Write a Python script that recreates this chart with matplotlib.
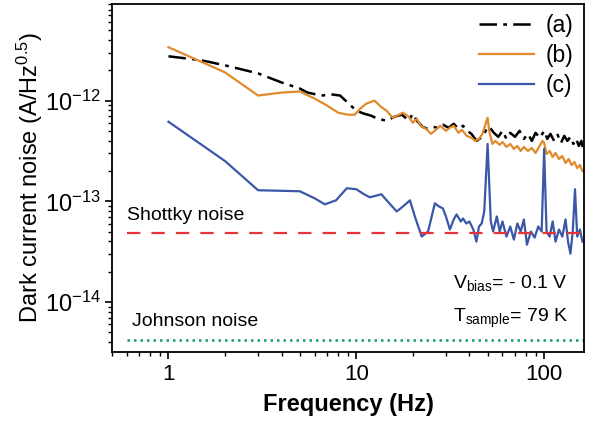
import matplotlib
matplotlib.use("Agg")
import matplotlib.pyplot as plt
import numpy as np
from matplotlib.ticker import LogLocator, FixedLocator, FixedFormatter, NullFormatter

plt.rcParams['font.family'] = ['Liberation Sans', 'DejaVu Sans']
plt.rcParams['mathtext.fontset'] = 'custom'
plt.rcParams['mathtext.rm'] = 'Liberation Sans'
plt.rcParams['mathtext.it'] = 'Liberation Sans:italic'
plt.rcParams['mathtext.bf'] = 'Liberation Sans:bold'

# ---- data (log10 of noise, A/Hz^0.5) ----
freq_a = [1, 1.5, 2, 3, 4, 5, 5.5, 6.5, 7.5, 8.2, 9, 10, 11, 12, 13, 14.5, 16, 17.5, 19, 20,
          21, 22.5, 24, 25.6, 27, 29, 31, 33, 35, 37, 39, 41, 43.7, 46, 48, 50, 52, 54, 57, 60,
          63, 66, 70, 74, 78, 82, 86, 90, 95, 100, 104, 108, 113, 118, 123, 128, 133, 138, 143,
          148, 153, 158, 162]
log_a = [-11.56, -11.60, -11.65, -11.73, -11.82, -11.88, -11.92, -11.95, -11.94, -11.95, -12.02,
         -12.10, -12.13, -12.15, -12.18, -12.20, -12.16, -12.14, -12.20, -12.13, -12.20, -12.26,
         -12.28, -12.26, -12.27, -12.24, -12.27, -12.23, -12.28, -12.25, -12.30, -12.33, -12.40,
         -12.37, -12.33, -12.26, -12.28, -12.32, -12.36, -12.30, -12.38, -12.32, -12.36, -12.30,
         -12.38, -12.33, -12.40, -12.32, -12.37, -12.30, -12.38, -12.33, -12.40, -12.34, -12.42,
         -12.35, -12.40, -12.36, -12.43, -12.38, -12.45, -12.40, -12.50]

freq_b = [1, 2, 3, 4, 5, 6, 7, 8, 9, 9.8, 10.5, 11.3, 12.5, 13.5, 14.5, 15.6, 16.5, 17.7, 19, 20,
          21, 22, 23.5, 25, 26.5, 28, 30, 31.5, 33, 35, 36.5, 38.7, 41, 43, 45, 47, 49, 50, 51, 53,
          55, 58, 60, 63, 66, 69, 72, 75, 78, 82, 86, 90, 94, 98, 100, 103, 107, 111, 115, 120,
          125, 130, 135, 140, 145, 150, 155, 160]
log_b = [-11.47, -11.72, -11.95, -11.92, -11.91, -11.98, -12.05, -12.12, -12.14, -12.14, -12.08,
         -12.03, -12.00, -12.06, -12.10, -12.17, -12.15, -12.12, -12.16, -12.22, -12.18, -12.25,
         -12.28, -12.33, -12.29, -12.25, -12.30, -12.27, -12.25, -12.32, -12.29, -12.35, -12.37,
         -12.40, -12.38, -12.33, -12.22, -12.17, -12.30, -12.43, -12.40, -12.44, -12.41, -12.46,
         -12.43, -12.48, -12.45, -12.50, -12.46, -12.50, -12.47, -12.52, -12.46, -12.40, -12.42,
         -12.53, -12.50, -12.56, -12.52, -12.58, -12.55, -12.62, -12.58, -12.64, -12.61, -12.67,
         -12.64, -12.70]

freq_c = [1, 2, 3, 5, 6, 6.8, 7.8, 8.9, 10, 11, 11.8, 13.6, 15, 16.4, 17.5, 19.3, 20.5, 22.3,
          24.1, 26.2, 27.5, 28.9, 30, 31.5, 33, 34.2, 36, 37, 38.5, 40, 42, 43.6, 45, 46.5, 48,
          50, 52, 53.5, 56, 58, 60, 63, 66, 69, 72, 75, 78, 81, 85, 89, 93, 97, 100, 103, 107,
          111, 115, 120, 125, 130, 134, 138, 142, 146, 150, 155, 160]
log_c = [-12.21, -12.60, -12.89, -12.90, -12.97, -13.03, -12.99, -12.87, -12.88, -12.93, -12.96,
         -12.93, -13.02, -13.10, -13.06, -12.99, -13.15, -13.35, -13.30, -13.02, -13.05, -13.07,
         -13.15, -13.28, -13.18, -13.13, -13.20, -13.17, -13.22, -13.20, -13.28, -13.40, -13.25,
         -13.22, -13.10, -12.43, -13.20, -13.30, -13.15, -13.30, -13.20, -13.35, -13.25, -13.38,
         -13.22, -13.30, -13.18, -13.43, -13.30, -13.36, -13.25, -13.30, -12.48, -13.30, -13.35,
         -13.20, -13.40, -13.28, -13.35, -13.18, -13.40, -13.52, -13.30, -12.88, -13.35, -13.28,
         -13.40]

shottky_level = 4.9e-14
johnson_level = 4.2e-15
ref_freq = [0.6, 165]

labels = ['(a)', '(b)', '(c)']

fig = plt.figure(figsize=(5.89, 4.25), dpi=100)
ax = fig.add_axes([0.190, 0.172, 0.8015, 0.8186])

ax.plot(freq_a, 10.0 ** np.array(log_a), color='black', lw=1.8, ls=(0, (7, 2.5, 1.5, 2.5)), label=labels[0])
ax.plot(freq_b, 10.0 ** np.array(log_b), color='#e08a2c', lw=1.6, label=labels[1])
ax.plot(freq_c, 10.0 ** np.array(log_c), color='#3a57a8', lw=1.6, label=labels[2])
ax.plot(ref_freq, [shottky_level] * 2, color='#e8333a', lw=1.6, ls=(0, (6, 5)))
ax.plot(ref_freq, [johnson_level] * 2, color='#1a9a6a', lw=1.8, ls=(0, (1, 1.6)))

ax.set_xscale('log')
ax.set_yscale('log')
ax.set_xlim(0.5, 163)
ax.set_ylim(3.2e-15, 9.1e-12)

ax.xaxis.set_major_locator(FixedLocator([1, 10, 100]))
ax.xaxis.set_major_formatter(FixedFormatter(['1', '10', '100']))
ax.xaxis.set_minor_locator(LogLocator(base=10, subs=np.arange(2, 10)))
ax.xaxis.set_minor_formatter(NullFormatter())
ax.yaxis.set_major_locator(FixedLocator([1e-14, 1e-13, 1e-12]))
ax.yaxis.set_major_formatter(FixedFormatter([r'10$^{\mathregular{-14}}$', r'10$^{\mathregular{-13}}$', r'10$^{\mathregular{-12}}$']))
ax.yaxis.set_minor_locator(LogLocator(base=10, subs=np.arange(2, 10)))
ax.yaxis.set_minor_formatter(NullFormatter())

ax.tick_params(which='major', direction='out', length=5, width=1.2, labelsize=16)
ax.tick_params(axis='y', which='major', labelsize=17, pad=3)
ax.tick_params(which='minor', direction='out', length=3, width=1.0)
for s in ax.spines.values():
    s.set_linewidth(1.3)

ax.set_xlabel('Frequency (Hz)', fontsize=17, fontweight='bold', labelpad=6)
ax.set_ylabel(r'Dark current noise (A/Hz$^{\mathregular{0.5}}$)', fontsize=17, labelpad=0)

ax.text(0.60, 6.6e-14, 'Shottky noise', fontsize=14, va='baseline', ha='left')
ax.text(0.643, 5.75e-15, 'Johnson noise', fontsize=14, va='baseline', ha='left')
ax.text(0.722, 0.184, r'V$_{\mathregular{bias}}$= - 0.1 V', transform=ax.transAxes, fontsize=14, va='baseline')
ax.text(0.722, 0.086, r'T$_{\mathregular{sample}}$= 79 K', transform=ax.transAxes, fontsize=14, va='baseline')

leg = ax.legend(loc='upper right', frameon=False, fontsize=16.5, handlelength=2.4,
                handletextpad=0.5, labelspacing=0.3, borderaxespad=0.05)

fig.savefig('out.png', dpi=100)
